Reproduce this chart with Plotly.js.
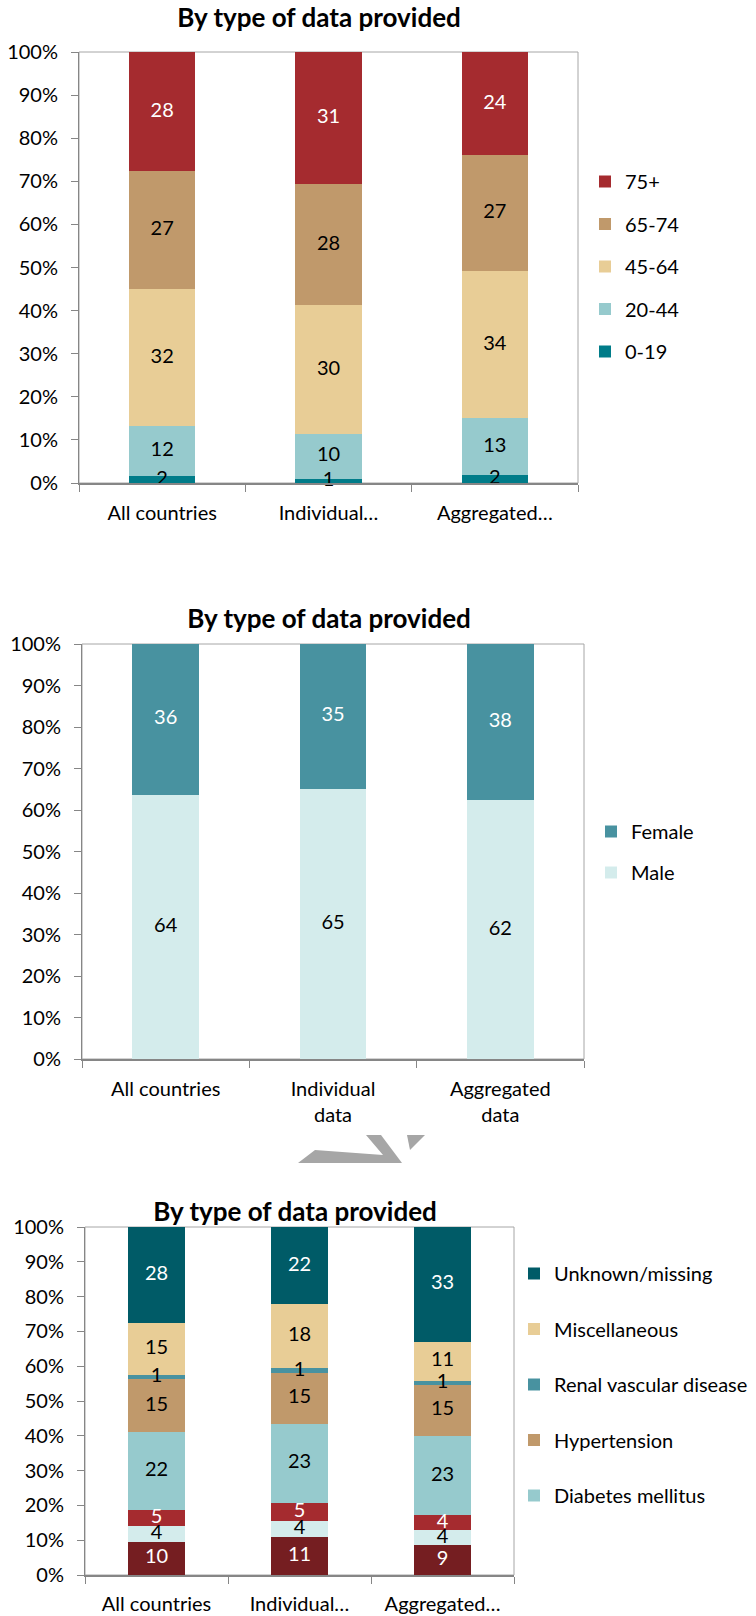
<!DOCTYPE html>
<html><head><meta charset="utf-8">
<script src="https://cdn.plot.ly/plotly-3.0.1.min.js"></script>
<style>
body{margin:0;background:#fff;width:756px;height:1616px;position:relative;overflow:hidden}
.chart{position:absolute;left:0;width:756px}
#deco{position:absolute;left:0;top:1120px;z-index:5}
</style></head><body>
<div id="c1" class="chart" style="top:0;height:560px"></div>
<div id="c2" class="chart" style="top:560px;height:580px"></div>
<div id="c3" class="chart" style="top:1140px;height:476px"></div>
<svg id="deco" width="756" height="60">
  <polygon points="407,15 425,15 410,30" fill="#A6A6A6"/>
  <polygon points="298,43 315,30 383,35 366,15 381,15 402,43" fill="#A6A6A6"/>
</svg>
<script>
// ---------- data ----------
const categoriesShort = ['All countries', 'Individual…', 'Aggregated…'];
const categoriesWrapped = ['All countries', 'Individual<br>data', 'Aggregated<br>data'];

// Chart 1: age groups (%)
const age_0_19  = [1.6, 1.0, 1.9];
const age_20_44 = [11.6, 10.3, 13.1];
const age_45_64 = [31.7, 29.9, 34.2];
const age_65_74 = [27.4, 28.1, 26.8];
const age_75p   = [27.7, 30.7, 24.0];

// Chart 2: sex (%)
const male   = [63.7, 65.1, 62.4];
const female = [36.3, 34.9, 37.6];

// Chart 3: primary renal disease (%)
const glomerulonephritis = [9.6, 11.0, 8.6];
const pyelonephritis     = [4.4, 4.4, 4.3];
const polycystic         = [4.6, 5.3, 4.2];
const diabetes           = [22.4, 22.8, 22.9];
const hypertension       = [15.2, 14.6, 14.7];
const renalVascular      = [1.2, 1.3, 1.1];
const miscellaneous      = [15.0, 18.4, 11.2];
const unknownMissing     = [27.6, 22.2, 33.0];

const titleText = 'By type of data provided';
const yTicks = [0,10,20,30,40,50,60,70,80,90,100];
const yTickText = yTicks.map(v => v + '%');

// ---------- helpers ----------
const FONT = 'Lato, Carlito, Calibri, sans-serif';
const FS = 20;

// Build stacked bar traces plus centred value labels from series definitions
function buildTraces(cats, defs) {
  const bars = [], labels = [];
  let base = cats.map(() => 0);
  defs.forEach((d, i) => {
    bars.push({
      type: 'bar', name: d.name, x: cats, y: d.values,
      marker: {color: d.color, line: {width: 0}},
      hoverinfo: 'skip', legendgroup: d.name, legendrank: defs.length - i,
      showlegend: d.legend !== false
    });
    const mid = d.values.map((v, k) => base[k] + v / 2);
    labels.push({
      type: 'scatter', mode: 'text', x: cats, y: mid,
      text: d.values.map(v => String(Math.round(v))),
      textposition: 'middle center', cliponaxis: false,
      textfont: {family: FONT, size: FS, color: d.textColor},
      hoverinfo: 'skip', showlegend: false
    });
    base = base.map((b, k) => b + d.values[k]);
  });
  return bars.concat(labels);
}

function makeLayout(o) {
  const W = 756, H = o.H;
  return {
    width: W, height: H, autosize: false,
    margin: {l: o.l, r: W - o.r, t: o.t, b: H - o.b, pad: 0},
    paper_bgcolor: 'rgba(0,0,0,0)', plot_bgcolor: '#fff',
    font: {family: FONT, size: FS, color: '#000'},
    barmode: 'stack', bargap: 0.6,
    showlegend: true,
    title: {text: '<b>' + titleText + '</b>', font: {family: FONT, size: 26, color: '#000'},
            xref: 'container', yref: 'container', x: o.tx / W, y: 1 - o.ty / H,
            xanchor: 'center', yanchor: 'middle'},
    xaxis: {type: 'category', showline: true, linecolor: '#868686', linewidth: 2,
            ticks: 'outside', tickson: 'boundaries', ticklen: 7, tickcolor: '#868686', tickwidth: 1,
            tickfont: {family: FONT, size: FS, color: '#000'}, showgrid: false, zeroline: false,
            fixedrange: true, ticklabelstandoff: o.xstand},
    yaxis: {range: [0, 100], tickvals: yTicks, ticktext: yTickText, showline: true,
            linecolor: '#868686', linewidth: 1, ticks: 'outside', ticklen: 7, tickcolor: '#868686',
            tickfont: {family: FONT, size: FS, color: '#000'}, showgrid: false, zeroline: false,
            fixedrange: true, ticklabelstandoff: 9},
    shapes: [{type: 'rect', xref: 'paper', yref: 'paper', x0: 0, x1: 1, y0: 0, y1: 1,
              line: {color: '#A6A6A6', width: 1}, layer: 'below'}],
    legend: {xref: 'container', yref: 'container', x: o.lx / W, y: 1 - o.ly / H,
             xanchor: 'left', yanchor: 'top', traceorder: 'grouped', maxheight: 420,
             tracegroupgap: o.gap, font: {family: FONT, size: FS, color: '#000'},
             bgcolor: 'rgba(0,0,0,0)'}
  };
}
const config = {staticPlot: true, displayModeBar: false};

// ---------- chart 1 ----------
Plotly.newPlot('c1', buildTraces(categoriesShort, [
  {name: '0-19',  values: age_0_19,  color: '#007C89', textColor: '#000'},
  {name: '20-44', values: age_20_44, color: '#96CACD', textColor: '#000'},
  {name: '45-64', values: age_45_64, color: '#E8CD96', textColor: '#000'},
  {name: '65-74', values: age_65_74, color: '#C0996B', textColor: '#000'},
  {name: '75+',   values: age_75p,   color: '#A52B2F', textColor: '#fff'}
]), makeLayout({H: 560, l: 79, r: 578, t: 52, b: 483, tx: 319, ty: 18,
               lx: 585, ly: 162, gap: 13.5, xstand: 11}), config);

// ---------- chart 2 ----------
Plotly.newPlot('c2', buildTraces(categoriesWrapped, [
  {name: 'Male',   values: male,   color: '#D4ECEC', textColor: '#000'},
  {name: 'Female', values: female, color: '#4892A0', textColor: '#fff'}
]), makeLayout({H: 580, l: 82, r: 584, t: 84, b: 499, tx: 329, ty: 59,
               lx: 591, ly: 252, gap: 12, xstand: 11}), config);

// ---------- chart 3 ----------
Plotly.newPlot('c3', buildTraces(categoriesShort, [
  {name: 'Glomerulonephritis/sclerosis', values: glomerulonephritis, color: '#751E21', textColor: '#fff', legend: false},
  {name: 'Pyelonephritis', values: pyelonephritis, color: '#D4ECEC', textColor: '#000', legend: false},
  {name: 'Polycystic kidney disease', values: polycystic, color: '#A52B2F', textColor: '#fff', legend: false},
  {name: 'Diabetes mellitus', values: diabetes, color: '#96CACD', textColor: '#000'},
  {name: 'Hypertension', values: hypertension, color: '#C0996B', textColor: '#000'},
  {name: 'Renal vascular disease', values: renalVascular, color: '#4892A0', textColor: '#000'},
  {name: 'Miscellaneous', values: miscellaneous, color: '#E8CD96', textColor: '#000'},
  {name: 'Unknown/missing', values: unknownMissing, color: '#005B67', textColor: '#fff'}
]), makeLayout({H: 476, l: 85, r: 514, t: 87, b: 435, tx: 295, ty: 72,
               lx: 514, ly: 114, gap: 26.5, xstand: 10}), config);
</script>
</body></html>
